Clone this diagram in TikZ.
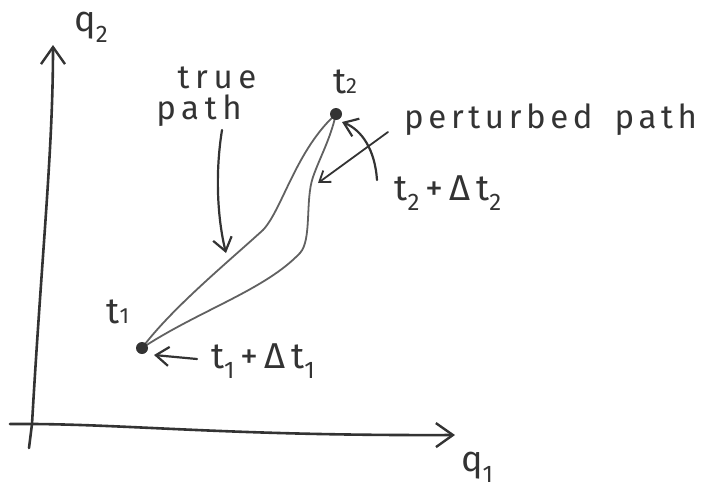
\documentclass[tikz,border=0pt]{standalone}
\usepackage{fontspec}
\setmainfont{Fira Sans}[LetterSpace=10]
\newfontfamily\handwide{Fira Sans}[LetterSpace=17]
\newfontfamily\handmid{Fira Sans}[LetterSpace=14]
\usetikzlibrary{arrows.meta}
\definecolor{pencil}{gray}{0.2}
\definecolor{pencillight}{gray}{0.38}
\newcommand{\lsub}[1]{\raisebox{-0.3em}{\fontsize{24}{24}\selectfont #1}}
\newcommand{\bsub}[1]{{\fontsize{22}{22}\selectfont #1}}
\begin{document}
\begin{tikzpicture}[x=1pt,y=-1pt,
  axis/.style={draw=pencil, line width=2.6pt, line cap=round,
    -{Straight Barb[length=17pt,width=24pt,line width=2.4pt]}},
  pathline/.style={draw=pencillight, line width=1.8pt, line cap=round},
  ptr/.style={draw=pencil, line width=2.2pt, line cap=round,
    -{Straight Barb[length=13pt,width=19pt,line width=2.2pt]}},
  smallptr/.style={draw=pencil, line width=1.8pt, line cap=round,
    -{Straight Barb[length=10pt,width=14pt,line width=1.8pt]}},
  dotstyle/.style={circle, fill=pencil, minimum size=12pt, inner sep=0pt},
  lbl/.style={text=pencil, inner sep=0pt},
  big/.style={font=\fontsize{36}{36}\selectfont},
  word/.style={font=\handwide\fontsize{33}{33}\selectfont},
  longword/.style={font=\handmid\fontsize{33}{33}\selectfont}]
\useasboundingbox (0,0) rectangle (703,496);
% end points
\coordinate (t1) at (142,348);
\coordinate (t2) at (336,114);
% axes
\coordinate (vb) at (29,448);
\coordinate (o) at (32,424);
\coordinate (vt) at (53,45);
\coordinate (hl) at (10,424);
\coordinate (ht) at (455,435);
\draw[axis] (vb) -- (o) .. controls (42,250) and (53,150) .. (vt);
\draw[axis] (hl) .. controls (120,423) and (220,436) .. (ht);
% paths
\draw[pathline] (t1) .. controls (172,308) and (228,262) .. (263,230)
  .. controls (282,210) and (296,150) .. (t2);
\draw[pathline] (t1) .. controls (200,310) and (265,290) .. (300,253)
  .. controls (312,240) and (305,200) .. (313,177)
  .. controls (320,157) and (330,140) .. (t2);
\node[dotstyle] (t1dot) at (t1) {};
\node[dotstyle] (t2dot) at (t2) {};
% labels
\node[lbl, big] (q2) at (91,27) {q\lsub{2}};
\node[lbl, big] (q1) at (477,467) {q\lsub{1}};
\node[lbl, big] (lt1) at (118,312) {t\bsub{1}};
\node[lbl, big] (lt2) at (345,82) {t\bsub{2}};
\node[lbl, word] (ltrue) at (217,78) {true};
\node[lbl, word] (lpath) at (199,111) {path};
\node[lbl, longword, anchor=west] (lpert) at (404,120) {perturbed\hspace{22pt}path};
\node[lbl, big] (ld2) at (448,193) {t\lsub{2}\,+\,Δ\,t\lsub{2}};
\node[lbl, big] (ld1) at (263,361) {t\lsub{1}\,+\,Δ\,t\lsub{1}};
% pointers
\coordinate (ta0) at (222,130);
\coordinate (ta1) at (226,253);
\draw[ptr] (ta0) .. controls (214,180) and (219,225) .. (ta1);
\coordinate (pa0) at (388,132);
\coordinate (pa1) at (318,183);
\draw[smallptr] (pa0) -- (pa1);
\coordinate (da0) at (377,180);
\coordinate (da1) at (342,122);
\draw[ptr] (da0) .. controls (375,150) and (362,130) .. (da1);
\coordinate (ea0) at (197,359);
\coordinate (ea1) at (154,355);
\draw[ptr] (ea0) -- (ea1);
\end{tikzpicture}
\end{document}
